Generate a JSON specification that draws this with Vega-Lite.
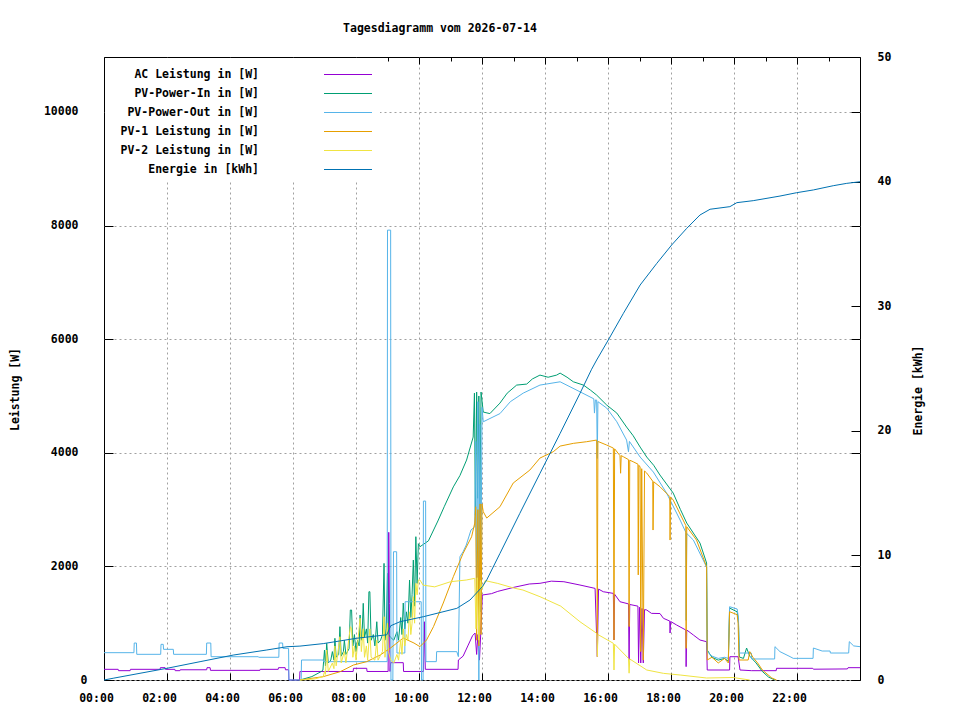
{
  "$schema": "https://vega.github.io/schema/vega-lite/v6.json",
  "width": 756,
  "height": 623,
  "autosize": {"type": "none"},
  "padding": {"left": 104, "top": 57, "right": 100, "bottom": 40},
  "background": "white",
  "title": {"text": "Tagesdiagramm vom 2026-07-14", "frame": "group", "anchor": "middle", "dx": -42, "offset": 11, "baseline": "middle", "font": "DejaVu Sans Mono", "fontSize": 11.5, "fontWeight": "bold", "color": "black"},
  "datasets": {
    "ac": [
      {"h":0,"w":188},{"h":0.45,"w":188},{"h":0.46,"w":164},{"h":0.83,"w":164},{"h":0.84,"w":188},{"h":1.78,"w":188},{"h":1.79,"w":217},{"h":1.94,"w":217},{"h":1.95,"w":188},{"h":2.25,"w":188},{"h":2.26,"w":164},{"h":2.41,"w":164},{"h":2.42,"w":180},{"h":3.26,"w":180},{"h":3.27,"w":217},{"h":3.37,"w":217},{"h":3.38,"w":170},{"h":4.95,"w":170},{"h":4.96,"w":188},{"h":5.53,"w":188},{"h":5.54,"w":217},{"h":5.75,"w":217},{"h":5.76,"w":180},{"h":5.86,"w":180},{"h":5.87,"w":0},{"h":6.21,"w":0},{"h":6.22,"w":150},{"h":7.91,"w":150},{"h":7.92,"w":206},{"h":8.34,"w":206},{"h":8.35,"w":150},{"h":9.02,"w":150},{"h":9.04,"w":2600},{"h":9.06,"w":1350},{"h":9.08,"w":150},{"h":9.1,"w":305},{"h":9.5,"w":305},{"h":9.51,"w":150},{"h":10.14,"w":150},{"h":10.17,"w":1026},{"h":10.2,"w":188},{"h":11.24,"w":188},{"h":11.25,"w":352},{"h":11.4,"w":420},{"h":11.55,"w":600},{"h":11.7,"w":780},{"h":11.78,"w":827},{"h":11.83,"w":450},{"h":11.87,"w":800},{"h":11.92,"w":350},{"h":11.96,"w":820},{"h":12.01,"w":1496},{"h":12.3,"w":1520},{"h":12.5,"w":1560},{"h":13.0,"w":1630},{"h":13.5,"w":1690},{"h":13.84,"w":1702},{"h":14.2,"w":1740},{"h":14.6,"w":1730},{"h":15.11,"w":1672},{"h":15.59,"w":1613},{"h":15.66,"w":410},{"h":15.7,"w":1600},{"h":15.85,"w":1554},{"h":16.17,"w":1525},{"h":16.19,"w":704},{"h":16.21,"w":1510},{"h":16.38,"w":1378},{"h":16.65,"w":1340},{"h":16.67,"w":352},{"h":16.69,"w":1330},{"h":16.95,"w":1300},{"h":16.97,"w":300},{"h":17.0,"w":1280},{"h":17.04,"w":300},{"h":17.08,"w":1260},{"h":17.12,"w":300},{"h":17.16,"w":1240},{"h":17.23,"w":1232},{"h":17.38,"w":1173},{"h":17.65,"w":1170},{"h":17.76,"w":1086},{"h":17.96,"w":1038},{"h":17.97,"w":827},{"h":17.99,"w":1030},{"h":18.18,"w":968},{"h":18.47,"w":880},{"h":18.48,"w":235},{"h":18.5,"w":880},{"h":18.71,"w":792},{"h":18.92,"w":704},{"h":19.13,"w":674},{"h":19.15,"w":176},{"h":19.86,"w":176},{"h":19.87,"w":410},{"h":20.13,"w":410},{"h":20.19,"w":176},{"h":20.56,"w":164},{"h":21.34,"w":164},{"h":21.35,"w":206},{"h":22.5,"w":206},{"h":22.52,"w":190},{"h":23.6,"w":195},{"h":23.62,"w":217},{"h":24,"w":217}
    ],
    "pvin": [
      {"h":6.22,"w":0},{"h":6.6,"w":60},{"h":6.9,"w":150},{"h":6.95,"w":176},{"h":7.0,"w":528},{"h":7.03,"w":250},{"h":7.07,"w":646},{"h":7.12,"w":300},{"h":7.2,"w":350},{"h":7.25,"w":500},{"h":7.3,"w":350},{"h":7.33,"w":734},{"h":7.37,"w":400},{"h":7.45,"w":450},{"h":7.49,"w":939},{"h":7.53,"w":420},{"h":7.6,"w":500},{"h":7.63,"w":700},{"h":7.68,"w":450},{"h":7.78,"w":550},{"h":7.82,"w":1232},{"h":7.86,"w":1232},{"h":7.9,"w":600},{"h":7.95,"w":800},{"h":8.0,"w":500},{"h":8.05,"w":700},{"h":8.1,"w":600},{"h":8.13,"w":1144},{"h":8.17,"w":700},{"h":8.2,"w":900},{"h":8.23,"w":1350},{"h":8.27,"w":750},{"h":8.33,"w":900},{"h":8.37,"w":650},{"h":8.41,"w":1554},{"h":8.44,"w":1554},{"h":8.48,"w":700},{"h":8.55,"w":800},{"h":8.6,"w":600},{"h":8.66,"w":1026},{"h":8.7,"w":650},{"h":8.78,"w":700},{"h":8.84,"w":800},{"h":8.89,"w":2053},{"h":8.92,"w":700},{"h":8.96,"w":900},{"h":9.0,"w":1878},{"h":9.03,"w":800},{"h":9.1,"w":750},{"h":9.2,"w":700},{"h":9.3,"w":850},{"h":9.35,"w":700},{"h":9.42,"w":1100},{"h":9.46,"w":800},{"h":9.5,"w":1355},{"h":9.55,"w":900},{"h":9.6,"w":1200},{"h":9.65,"w":1000},{"h":9.7,"w":1760},{"h":9.74,"w":1100},{"h":9.78,"w":1500},{"h":9.82,"w":2112},{"h":9.86,"w":1300},{"h":9.9,"w":2523},{"h":9.94,"w":1700},{"h":9.98,"w":2400},{"h":10.03,"w":2346},{"h":10.3,"w":2450},{"h":10.6,"w":2800},{"h":10.8,"w":3050},{"h":11.09,"w":3400},{"h":11.3,"w":3600},{"h":11.51,"w":3872},{"h":11.72,"w":4277},{"h":11.76,"w":5051},{"h":11.79,"w":2900},{"h":11.83,"w":5069},{"h":11.86,"w":3200},{"h":11.9,"w":5000},{"h":11.93,"w":2950},{"h":11.97,"w":5069},{"h":12.04,"w":4717},{"h":12.25,"w":4690},{"h":12.57,"w":4875},{"h":12.8,"w":5050},{"h":13.1,"w":5192},{"h":13.42,"w":5210},{"h":13.6,"w":5300},{"h":13.84,"w":5368},{"h":14.1,"w":5330},{"h":14.37,"w":5368},{"h":14.48,"w":5403},{"h":14.7,"w":5330},{"h":14.9,"w":5250},{"h":15.22,"w":5192},{"h":15.45,"w":5100},{"h":15.64,"w":5016},{"h":15.96,"w":4840},{"h":16.28,"w":4699},{"h":16.59,"w":4453},{"h":16.8,"w":4300},{"h":17.02,"w":4101},{"h":17.23,"w":3925},{"h":17.45,"w":3780},{"h":17.65,"w":3608},{"h":18.07,"w":3291},{"h":18.3,"w":3000},{"h":18.5,"w":2763},{"h":18.92,"w":2411},{"h":19.13,"w":2059},{"h":19.15,"w":528},{"h":19.3,"w":400},{"h":19.5,"w":350},{"h":19.7,"w":380},{"h":19.82,"w":330},{"h":19.86,"w":1267},{"h":20.1,"w":1200},{"h":20.14,"w":1050},{"h":20.17,"w":405},{"h":20.3,"w":380},{"h":20.4,"w":563},{"h":20.5,"w":420},{"h":20.7,"w":300},{"h":20.9,"w":150},{"h":21.1,"w":50},{"h":21.3,"w":0}
    ],
    "pvout": [
      {"h":0,"w":481},{"h":0.95,"w":481},{"h":0.96,"w":651},{"h":1.03,"w":651},{"h":1.04,"w":452},{"h":1.8,"w":452},{"h":1.81,"w":628},{"h":1.88,"w":628},{"h":1.89,"w":540},{"h":2.2,"w":540},{"h":2.21,"w":452},{"h":3.25,"w":452},{"h":3.26,"w":651},{"h":3.39,"w":651},{"h":3.4,"w":410},{"h":4.9,"w":410},{"h":4.91,"w":400},{"h":5.55,"w":400},{"h":5.56,"w":651},{"h":5.67,"w":651},{"h":5.68,"w":557},{"h":5.86,"w":557},{"h":5.87,"w":0},{"h":6.26,"w":0},{"h":6.27,"w":352},{"h":6.96,"w":352},{"h":6.97,"w":323},{"h":8.99,"w":323},{"h":9.0,"w":7920},{"h":9.1,"w":7920},{"h":9.11,"w":0},{"h":9.17,"w":0},{"h":9.19,"w":2258},{"h":9.29,"w":2258},{"h":9.3,"w":475},{"h":9.55,"w":475},{"h":9.56,"w":1378},{"h":10.07,"w":1378},{"h":10.08,"w":0},{"h":10.13,"w":0},{"h":10.14,"w":3150},{"h":10.21,"w":3150},{"h":10.22,"w":323},{"h":10.55,"w":323},{"h":10.56,"w":499},{"h":11.2,"w":499},{"h":11.25,"w":411},{"h":11.3,"w":2170},{"h":11.4,"w":2258},{"h":11.5,"w":2376},{"h":11.65,"w":2640},{"h":11.77,"w":2698},{"h":11.8,"w":4200},{"h":11.83,"w":1500},{"h":11.87,"w":4900},{"h":11.9,"w":0},{"h":11.93,"w":4500},{"h":11.96,"w":1200},{"h":12.0,"w":4800},{"h":12.04,"w":4546},{"h":12.57,"w":4690},{"h":12.9,"w":4900},{"h":13.31,"w":5051},{"h":13.84,"w":5192},{"h":14.48,"w":5250},{"h":15.11,"w":5074},{"h":15.55,"w":4950},{"h":15.57,"w":4699},{"h":15.6,"w":4930},{"h":15.64,"w":4928},{"h":15.66,"w":3900},{"h":15.68,"w":4900},{"h":15.96,"w":4787},{"h":16.28,"w":4546},{"h":16.59,"w":4224},{"h":16.65,"w":4018},{"h":16.68,"w":4200},{"h":17.02,"w":3925},{"h":17.44,"w":3661},{"h":17.86,"w":3291},{"h":18.29,"w":2816},{"h":18.47,"w":2600},{"h":18.48,"w":1050},{"h":18.5,"w":2580},{"h":18.71,"w":2464},{"h":19.13,"w":1989},{"h":19.15,"w":499},{"h":19.3,"w":420},{"h":19.5,"w":380},{"h":19.7,"w":400},{"h":19.82,"w":380},{"h":19.86,"w":1290},{"h":20.1,"w":1250},{"h":20.14,"w":1100},{"h":20.17,"w":475},{"h":20.55,"w":475},{"h":20.56,"w":370},{"h":21.29,"w":370},{"h":21.3,"w":587},{"h":21.46,"w":499},{"h":21.78,"w":411},{"h":21.88,"w":381},{"h":22.51,"w":381},{"h":22.52,"w":563},{"h":22.8,"w":510},{"h":23.05,"w":510},{"h":23.06,"w":475},{"h":23.64,"w":475},{"h":23.66,"w":675},{"h":23.8,"w":600},{"h":24,"w":587}
    ],
    "pv1": [
      {"h":6.22,"w":0},{"h":6.96,"w":59},{"h":7.5,"w":147},{"h":7.92,"w":264},{"h":8.34,"w":323},{"h":8.77,"w":440},{"h":9.08,"w":557},{"h":9.5,"w":739},{"h":9.84,"w":651},{"h":10.03,"w":587},{"h":10.24,"w":704},{"h":10.46,"w":939},{"h":10.77,"w":1355},{"h":11.09,"w":1819},{"h":11.4,"w":2229},{"h":11.67,"w":2522},{"h":11.77,"w":2763},{"h":11.8,"w":3050},{"h":11.83,"w":700},{"h":11.87,"w":3000},{"h":11.9,"w":600},{"h":11.94,"w":3100},{"h":11.97,"w":800},{"h":12.0,"w":3100},{"h":12.04,"w":2962},{"h":12.15,"w":2851},{"h":12.57,"w":3050},{"h":12.99,"w":3467},{"h":13.52,"w":3696},{"h":13.84,"w":3907},{"h":14.26,"w":4018},{"h":14.48,"w":4118},{"h":14.9,"w":4166},{"h":15.32,"w":4195},{"h":15.64,"w":4224},{"h":15.66,"w":800},{"h":15.68,"w":4200},{"h":15.96,"w":4136},{"h":16.17,"w":4083},{"h":16.19,"w":704},{"h":16.21,"w":4070},{"h":16.38,"w":3950},{"h":16.4,"w":3640},{"h":16.42,"w":3950},{"h":16.49,"w":3930},{"h":16.65,"w":3880},{"h":16.67,"w":940},{"h":16.69,"w":3870},{"h":16.8,"w":3842},{"h":16.95,"w":3800},{"h":16.96,"w":1850},{"h":16.98,"w":3780},{"h":17.02,"w":3750},{"h":17.04,"w":500},{"h":17.07,"w":3720},{"h":17.12,"w":350},{"h":17.16,"w":3680},{"h":17.23,"w":3643},{"h":17.42,"w":3500},{"h":17.43,"w":2640},{"h":17.45,"w":3490},{"h":17.65,"w":3402},{"h":17.96,"w":3230},{"h":17.97,"w":2464},{"h":17.99,"w":3220},{"h":18.07,"w":3168},{"h":18.47,"w":2720},{"h":18.48,"w":557},{"h":18.5,"w":2698},{"h":18.81,"w":2464},{"h":19.13,"w":1994},{"h":19.15,"w":352},{"h":19.3,"w":400},{"h":19.5,"w":300},{"h":19.7,"w":380},{"h":19.82,"w":300},{"h":19.86,"w":1202},{"h":20.1,"w":1150},{"h":20.13,"w":1000},{"h":20.16,"w":352},{"h":20.45,"w":352},{"h":20.5,"w":499},{"h":20.6,"w":400},{"h":20.75,"w":300},{"h":20.9,"w":176},{"h":21.2,"w":35},{"h":21.35,"w":0}
    ],
    "pv2": [
      {"h":6.22,"w":0},{"h":6.7,"w":20},{"h":6.96,"w":60},{"h":7.0,"w":150},{"h":7.03,"w":100},{"h":7.07,"w":528},{"h":7.12,"w":150},{"h":7.25,"w":300},{"h":7.3,"w":200},{"h":7.33,"w":600},{"h":7.37,"w":250},{"h":7.49,"w":762},{"h":7.53,"w":300},{"h":7.63,"w":500},{"h":7.68,"w":300},{"h":7.82,"w":939},{"h":7.86,"w":900},{"h":7.9,"w":400},{"h":7.95,"w":600},{"h":8.0,"w":350},{"h":8.13,"w":1086},{"h":8.17,"w":500},{"h":8.23,"w":900},{"h":8.27,"w":400},{"h":8.33,"w":600},{"h":8.37,"w":350},{"h":8.44,"w":900},{"h":8.48,"w":400},{"h":8.6,"w":350},{"h":8.66,"w":700},{"h":8.7,"w":350},{"h":8.84,"w":500},{"h":8.89,"w":1114},{"h":8.92,"w":400},{"h":9.0,"w":1000},{"h":9.03,"w":500},{"h":9.1,"w":350},{"h":9.2,"w":300},{"h":9.3,"w":450},{"h":9.35,"w":350},{"h":9.42,"w":700},{"h":9.46,"w":450},{"h":9.5,"w":900},{"h":9.55,"w":600},{"h":9.6,"w":800},{"h":9.65,"w":700},{"h":9.7,"w":1200},{"h":9.74,"w":800},{"h":9.78,"w":1000},{"h":9.82,"w":1467},{"h":9.86,"w":1000},{"h":9.9,"w":1700},{"h":9.94,"w":1500},{"h":9.98,"w":1760},{"h":10.03,"w":1760},{"h":10.13,"w":1670},{"h":10.5,"w":1640},{"h":11.0,"w":1730},{"h":11.5,"w":1760},{"h":11.77,"w":1790},{"h":11.81,"w":900},{"h":11.85,"w":1800},{"h":11.9,"w":700},{"h":11.95,"w":1750},{"h":12.0,"w":1600},{"h":12.1,"w":1750},{"h":12.5,"w":1700},{"h":13.0,"w":1620},{"h":13.3,"w":1584},{"h":13.84,"w":1467},{"h":14.5,"w":1300},{"h":15.11,"w":1026},{"h":15.64,"w":822},{"h":15.66,"w":410},{"h":15.68,"w":800},{"h":16.17,"w":646},{"h":16.19,"w":176},{"h":16.21,"w":630},{"h":16.65,"w":380},{"h":16.67,"w":120},{"h":16.69,"w":370},{"h":17.23,"w":176},{"h":17.76,"w":117},{"h":18.29,"w":88},{"h":19.13,"w":35},{"h":19.97,"w":44},{"h":20.5,"w":0}
    ],
    "en": [
      {"h":0,"e":0},{"h":0.29,"e":0.14},{"h":2.0,"e":0.94},{"h":3.05,"e":1.47},{"h":4.1,"e":2.0},{"h":5.17,"e":2.41},{"h":5.81,"e":2.67},{"h":6.22,"e":2.72},{"h":6.96,"e":2.92},{"h":8.02,"e":3.35},{"h":8.98,"e":3.63},{"h":9.1,"e":4.35},{"h":9.4,"e":4.68},{"h":10.14,"e":5.08},{"h":11.2,"e":5.75},{"h":11.62,"e":6.42},{"h":12.01,"e":7.49},{"h":12.15,"e":8.03},{"h":12.57,"e":10.16},{"h":13.2,"e":13.37},{"h":13.84,"e":16.58},{"h":14.48,"e":19.79},{"h":15.11,"e":23.0},{"h":15.48,"e":24.94},{"h":15.64,"e":25.68},{"h":16.01,"e":27.29},{"h":16.49,"e":29.43},{"h":17.02,"e":31.7},{"h":17.55,"e":33.44},{"h":18.02,"e":34.91},{"h":18.5,"e":36.25},{"h":18.92,"e":37.32},{"h":19.24,"e":37.78},{"h":19.87,"e":37.99},{"h":20.09,"e":38.31},{"h":20.61,"e":38.47},{"h":21.46,"e":38.84},{"h":21.99,"e":39.11},{"h":22.52,"e":39.33},{"h":23.15,"e":39.67},{"h":23.58,"e":39.86},{"h":24,"e":39.99}
    ]
  },
  "layer": [
    {
      "layer": [
        {
          "data": {"name": "ac"},
          "mark": {"type": "line", "strokeWidth": 1},
          "encoding": {
            "x": {
              "field": "h", "type": "quantitative",
              "scale": {"domain": [0, 24], "nice": false, "zero": false},
              "axis": {
                "orient": "bottom", "title": null,
                "values": [0,1,2,3,4,5,6,7,8,9,10,11,12,13,14,15,16,17,18,19,20,21,22,23],
                "labelExpr": "datum.value % 2 == 0 ? (datum.value < 10 ? '0' : '') + datum.value + ':00' : ''",
                "tickSize": {"condition": {"test": "datum.value % 2 == 0", "value": -7}, "value": -4},
                "gridOpacity": {"condition": {"test": "datum.value % 2 == 0 && datum.value > 0", "value": 1}, "value": 0},
                "grid": true, "labelPadding": 19, "labelOffset": -8, "labelBaseline": "top",
                "labelFlush": false, "labelOverlap": false
              }
            },
            "y": {
              "field": "w", "type": "quantitative",
              "scale": {"domain": [0, 10968], "nice": false},
              "axis": {
                "orient": "left", "title": "Leistung [W]", "format": "d",
                "values": [0, 2000, 4000, 6000, 8000, 10000],
                "tickSize": -9, "grid": true,
                "labelPadding": {"condition": {"test": "datum.value == 0", "value": 26}, "value": 35},
                "labelOverlap": false, "labelFlush": false,
                "titleX": -89, "titleY": 332, "titleAngle": 270, "titleAlign": "center", "titleBaseline": "middle"
              }
            },
            "color": {
              "datum": "AC Leistung in [W]",
              "scale": {
                "domain": ["AC Leistung in [W]", "PV-Power-In in [W]", "PV-Power-Out in [W]", "PV-1 Leistung in [W]", "PV-2 Leistung in [W]", "Energie in [kWh]"],
                "range": ["#9400d3", "#009e73", "#56b4e9", "#e69f00", "#f0e442", "#0072b2"]
              },
              "legend": {
                "orient": "none", "legendX": 1, "legendY": 1, "title": null,
                "fillColor": "white", "strokeColor": null, "padding": 6,
                "symbolType": "M-2.4,0H2.4", "symbolSize": 400, "symbolStrokeWidth": 1,
                "symbolOffset": 226.5, "labelAlign": "right", "labelOffset": -99.5,
                "rowPadding": 3, "labelLimit": 300
              }
            }
          }
        },
        {
          "data": {"name": "pvin"},
          "mark": {"type": "line", "strokeWidth": 1},
          "encoding": {
            "x": {"field": "h", "type": "quantitative"},
            "y": {"field": "w", "type": "quantitative"},
            "color": {"datum": "PV-Power-In in [W]"}
          }
        },
        {
          "data": {"name": "pvout"},
          "mark": {"type": "line", "strokeWidth": 1},
          "encoding": {
            "x": {"field": "h", "type": "quantitative"},
            "y": {"field": "w", "type": "quantitative"},
            "color": {"datum": "PV-Power-Out in [W]"}
          }
        },
        {
          "data": {"name": "pv1"},
          "mark": {"type": "line", "strokeWidth": 1},
          "encoding": {
            "x": {"field": "h", "type": "quantitative"},
            "y": {"field": "w", "type": "quantitative"},
            "color": {"datum": "PV-1 Leistung in [W]"}
          }
        },
        {
          "data": {"name": "pv2"},
          "mark": {"type": "line", "strokeWidth": 1},
          "encoding": {
            "x": {"field": "h", "type": "quantitative"},
            "y": {"field": "w", "type": "quantitative"},
            "color": {"datum": "PV-2 Leistung in [W]"}
          }
        }
      ]
    },
    {
      "data": {"name": "en"},
      "mark": {"type": "line", "strokeWidth": 1},
      "encoding": {
        "x": {
          "field": "h", "type": "quantitative",
          "axis": {
            "orient": "top", "title": null, "labels": false, "grid": false,
            "values": [0,1,2,3,4,5,6,7,8,9,10,11,12,13,14,15,16,17,18,19,20,21,22,23],
            "tickSize": {"condition": {"test": "datum.value % 2 == 0", "value": -7}, "value": -4}
          }
        },
        "y": {
          "field": "e", "type": "quantitative",
          "scale": {"domain": [0, 50], "nice": false},
          "axis": {
            "orient": "right", "title": "Energie [kWh]",
            "values": [0, 10, 20, 30, 40, 50],
            "tickSize": -9, "grid": false, "labelPadding": 26, "labelAlign": "left",
            "labelOverlap": false, "labelFlush": false,
            "titleX": 58, "titleY": 333, "titleAngle": 270, "titleAlign": "center", "titleBaseline": "middle"
          }
        },
        "color": {"datum": "Energie in [kWh]"}
      }
    },
    {
      "data": {"name": "ac"},
      "mark": {"type": "line", "opacity": 0},
      "encoding": {
        "x": {"field": "h", "type": "quantitative", "axis": null},
        "y": {
          "field": "w", "type": "quantitative",
          "scale": {"domain": [0, 10968], "nice": false},
          "axis": {
            "orient": "right", "title": null, "labels": false, "grid": false,
            "values": [0, 2000, 4000, 6000, 8000, 10000], "tickSize": -9
          }
        }
      }
    }
  ],
  "resolve": {"scale": {"y": "independent"}, "axis": {"x": "independent", "y": "independent"}},
  "config": {
    "view": {"stroke": "black", "strokeWidth": 1},
    "axis": {
      "domain": false,
      "tickColor": "black", "tickWidth": 1,
      "gridColor": "#a0a0a0", "gridDash": [2, 3], "gridWidth": 1,
      "labelFont": "DejaVu Sans Mono", "labelFontSize": 11.5, "labelFontWeight": "bold", "labelColor": "black",
      "titleFont": "DejaVu Sans Mono", "titleFontSize": 11.5, "titleFontWeight": "bold", "titleColor": "black"
    },
    "legend": {
      "labelFont": "DejaVu Sans Mono", "labelFontSize": 11.5, "labelFontWeight": "bold", "labelColor": "black"
    }
  }
}
